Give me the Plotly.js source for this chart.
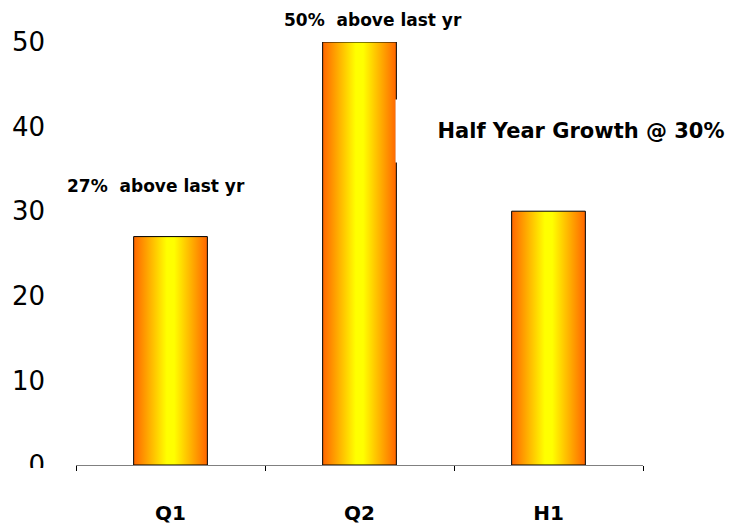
<!DOCTYPE html>
<html>
<head>
<meta charset="utf-8">
<script src="https://cdn.plot.ly/plotly-3.0.1.min.js"></script>
<style>
  html, body { margin: 0; padding: 0; background: #fff; }
  #chart { width: 732px; height: 528px; }
</style>
</head>
<body>
<div id="chart"></div>
<script>
const categories = ["Q1", "Q2", "H1"];
const values = [27, 50, 30];
const yTickVals = [0, 10, 20, 30, 40, 50];
const yTickText = ["0", "10", "20", "30", "40", "50"];
const noteQ1 = "27%  above last yr";
const noteQ2 = "50%  above last yr";
const noteH1 = "Half Year Growth @ 30%";

const FONT = "DejaVu Sans, Verdana, sans-serif";

const trace = {
  type: "bar",
  x: categories,
  y: values,
  width: 0.39,
  marker: { color: "#ff9900", line: { color: "#000000", width: 1 } },
  hoverinfo: "none"
};

const layout = {
  width: 732,
  height: 528,
  margin: { l: 76, r: 89, t: 42, b: 63 },
  paper_bgcolor: "#ffffff",
  plot_bgcolor: "#ffffff",
  showlegend: false,
  xaxis: {
    type: "category",
    range: [-0.5, 2.5],
    autorange: false,
    showgrid: false,
    showline: true,
    linecolor: "#808080",
    linewidth: 1,
    ticks: "outside",
    tickson: "boundaries",
    ticklen: 5,
    tickcolor: "#000000",
    ticklabelstandoff: 30,
    tickfont: { family: FONT, size: 20, color: "#000", weight: "bold" },
    zeroline: false
  },
  yaxis: {
    range: [0, 50],
    autorange: false,
    showgrid: false,
    showline: false,
    zeroline: false,
    ticks: "",
    tickvals: yTickVals,
    ticktext: yTickText,
    ticklabelstandoff: 30,
    tickfont: { family: FONT, size: 26, color: "#000" }
  },
  annotations: [
    { xref: "x", yref: "y", x: categories[0], y: values[0], xshift: -15, yshift: 51, text: noteQ1, showarrow: false,
      font: { family: FONT, size: 17, color: "#000", weight: "bold" }, xanchor: "center", yanchor: "middle" },
    { xref: "x", yref: "y", x: categories[1], y: values[1], xshift: 13, yshift: 22, text: noteQ2, showarrow: false,
      font: { family: FONT, size: 17, color: "#000", weight: "bold" }, xanchor: "center", yanchor: "middle" },
    { xref: "paper", yref: "paper", x: 0.8915, y: 0.789, text: noteH1, showarrow: false,
      font: { family: FONT, size: 21, color: "#000", weight: "bold" },
      xanchor: "center", yanchor: "middle", bgcolor: "#ffffff", width: 370, height: 62, borderpad: 0 }
  ],
  shapes: [
    { type: "rect", xref: "paper", yref: "paper", x0: -0.2, x1: -0.01, y0: -0.007, y1: -0.12, fillcolor: "#ffffff", line: { width: 0 }, layer: "above" }
  ]
};

Plotly.newPlot("chart", [trace], layout, { staticPlot: true }).then(function (gd) {
  const svg = gd.querySelector(".main-svg");
  let defs = svg.querySelector("defs");
  const ns = "http://www.w3.org/2000/svg";
  if (!defs) { defs = document.createElementNS(ns, "defs"); svg.insertBefore(defs, svg.firstChild); }
  const grad = document.createElementNS(ns, "linearGradient");
  grad.setAttribute("id", "barGrad");
  grad.setAttribute("x1", "0"); grad.setAttribute("y1", "0");
  grad.setAttribute("x2", "1"); grad.setAttribute("y2", "0");
  [["0", "#ff6600"], ["0.45", "#ffff00"], ["0.55", "#ffff00"], ["1", "#ff6600"]].forEach(function (s) {
    const st = document.createElementNS(ns, "stop");
    st.setAttribute("offset", s[0]);
    st.setAttribute("stop-color", s[1]);
    grad.appendChild(st);
  });
  defs.appendChild(grad);
  gd.querySelectorAll(".bars .point path").forEach(function (p) {
    p.style.fill = "url(#barGrad)";
  });
});
</script>
</body>
</html>
